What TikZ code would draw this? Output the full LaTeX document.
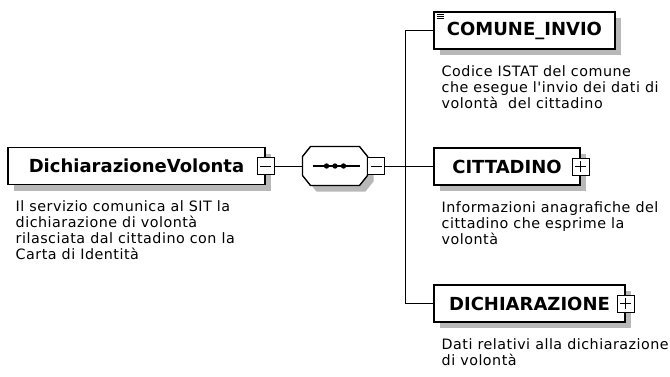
\documentclass[tikz,border=0pt]{standalone}
\usepackage{fontspec}
\setmainfont{DejaVu Sans}
\newfontfamily\descfont[LetterSpace=3.5]{DejaVu Sans}
\usetikzlibrary{shadows}
\tikzset{
    elem/.style={draw, line width=1.6pt, fill=white, minimum height=37pt, inner sep=0pt,
        font=\bfseries\fontsize{18}{18}\selectfont,
        drop shadow={shadow xshift=6pt, shadow yshift=-6pt, fill=black!28, opacity=1}},
    seqbox/.style={minimum width=64pt, minimum height=38pt, inner sep=0pt},
    seqline/.style={draw, line width=1.4pt, fill=white,
        drop shadow={shadow xshift=6pt, shadow yshift=-6pt, fill=black!28, opacity=1}},
    desc/.style={anchor=north west, inner sep=0pt, align=left, font=\descfont\fontsize{14.3}{16}\selectfont},
    togminus/.style={draw, line width=0.9pt, fill=white, minimum size=17pt, inner sep=0pt,
        path picture={\draw[line width=0.9pt] ([xshift=3pt]path picture bounding box.west) -- ([xshift=-3pt]path picture bounding box.east);}},
    togplus/.style={draw, line width=0.9pt, fill=white, minimum size=17pt, inner sep=0pt,
        path picture={\draw[line width=0.9pt] ([xshift=3pt]path picture bounding box.west) -- ([xshift=-3pt]path picture bounding box.east)
            ([yshift=-3pt]path picture bounding box.north) -- ([yshift=3pt]path picture bounding box.south);}}
}
\begin{document}
\begin{tikzpicture}[x=1pt, y=-1pt, line width=1pt]
    \useasboundingbox (0,0) rectangle (670,376);
    \node[elem, minimum width=257pt] (volonta) at (136.5,166) {DichiarazioneVolonta};
    \node[togminus] (volontatog) at (volonta.east) {};
    \node[seqbox] (seq) at (335,166) {};
    \path[seqline] ([xshift=8pt]seq.north west) -- ([xshift=-8pt]seq.north east) -- ([yshift=-10pt]seq.north east)
        -- ([yshift=10pt]seq.south east) -- ([xshift=-8pt]seq.south east) -- ([xshift=8pt]seq.south west)
        -- ([yshift=10pt]seq.south west) -- ([yshift=-10pt]seq.north west) -- cycle;
    \node[togminus] (seqtog) at ([xshift=8.5pt]seq.east) {};
    \draw[line width=1.2pt] ([xshift=10pt]seq.west) -- ([xshift=-8pt]seq.east);
    \foreach \dx in {-8.5,0,8.5}
        \fill ([xshift=\dx pt]seq.center) circle (2.7pt);
    \coordinate (fork) at (405,166);
    \node[elem, minimum width=181pt] (comune) at (524.5,30.5) {COMUNE\_INVIO};
    \foreach \dy in {3.5,5.5,7.5}
        \draw[line width=0.8pt] ([xshift=4pt,yshift=-\dy pt]comune.north west) -- ++(7,0);
    \node[elem, minimum width=146pt] (cittadino) at (507,166.5) {CITTADINO};
    \node[togplus] (cittadinotog) at (cittadino.east) {};
    \node[elem, minimum width=191pt] (dich) at (529.5,303.5) {DICHIARAZIONE};
    \node[togplus] (dichtog) at (dich.east) {};
    \draw (volontatog.east) -- (seq.west);
    \draw (seqtog.east) -- (fork);
    \draw (fork |- comune.west) -- (fork |- dich.west);
    \foreach \n in {comune,cittadino,dich}
        \draw (fork |- \n.west) -- (\n.west);
    \node[desc] (volontadesc) at ([xshift=8pt,yshift=-15pt]volonta.south west) {Il servizio comunica al SIT la\\dichiarazione di volontà\\rilasciata dal cittadino con la\\Carta di Identità};
    \node[desc] (comunedesc) at ([xshift=8pt,yshift=-15pt]comune.south west) {Codice ISTAT del comune\\che esegue l'invio dei dati di\\volontà\ \ del cittadino};
    \node[desc] (cittadinodesc) at ([xshift=8pt,yshift=-15pt]cittadino.south west) {Informazioni anagrafiche del\\cittadino che esprime la\\volontà};
    \node[desc] (dichdesc) at ([xshift=8pt,yshift=-15pt]dich.south west) {Dati relativi alla dichiarazione\\di volontà};
\end{tikzpicture}
\end{document}
